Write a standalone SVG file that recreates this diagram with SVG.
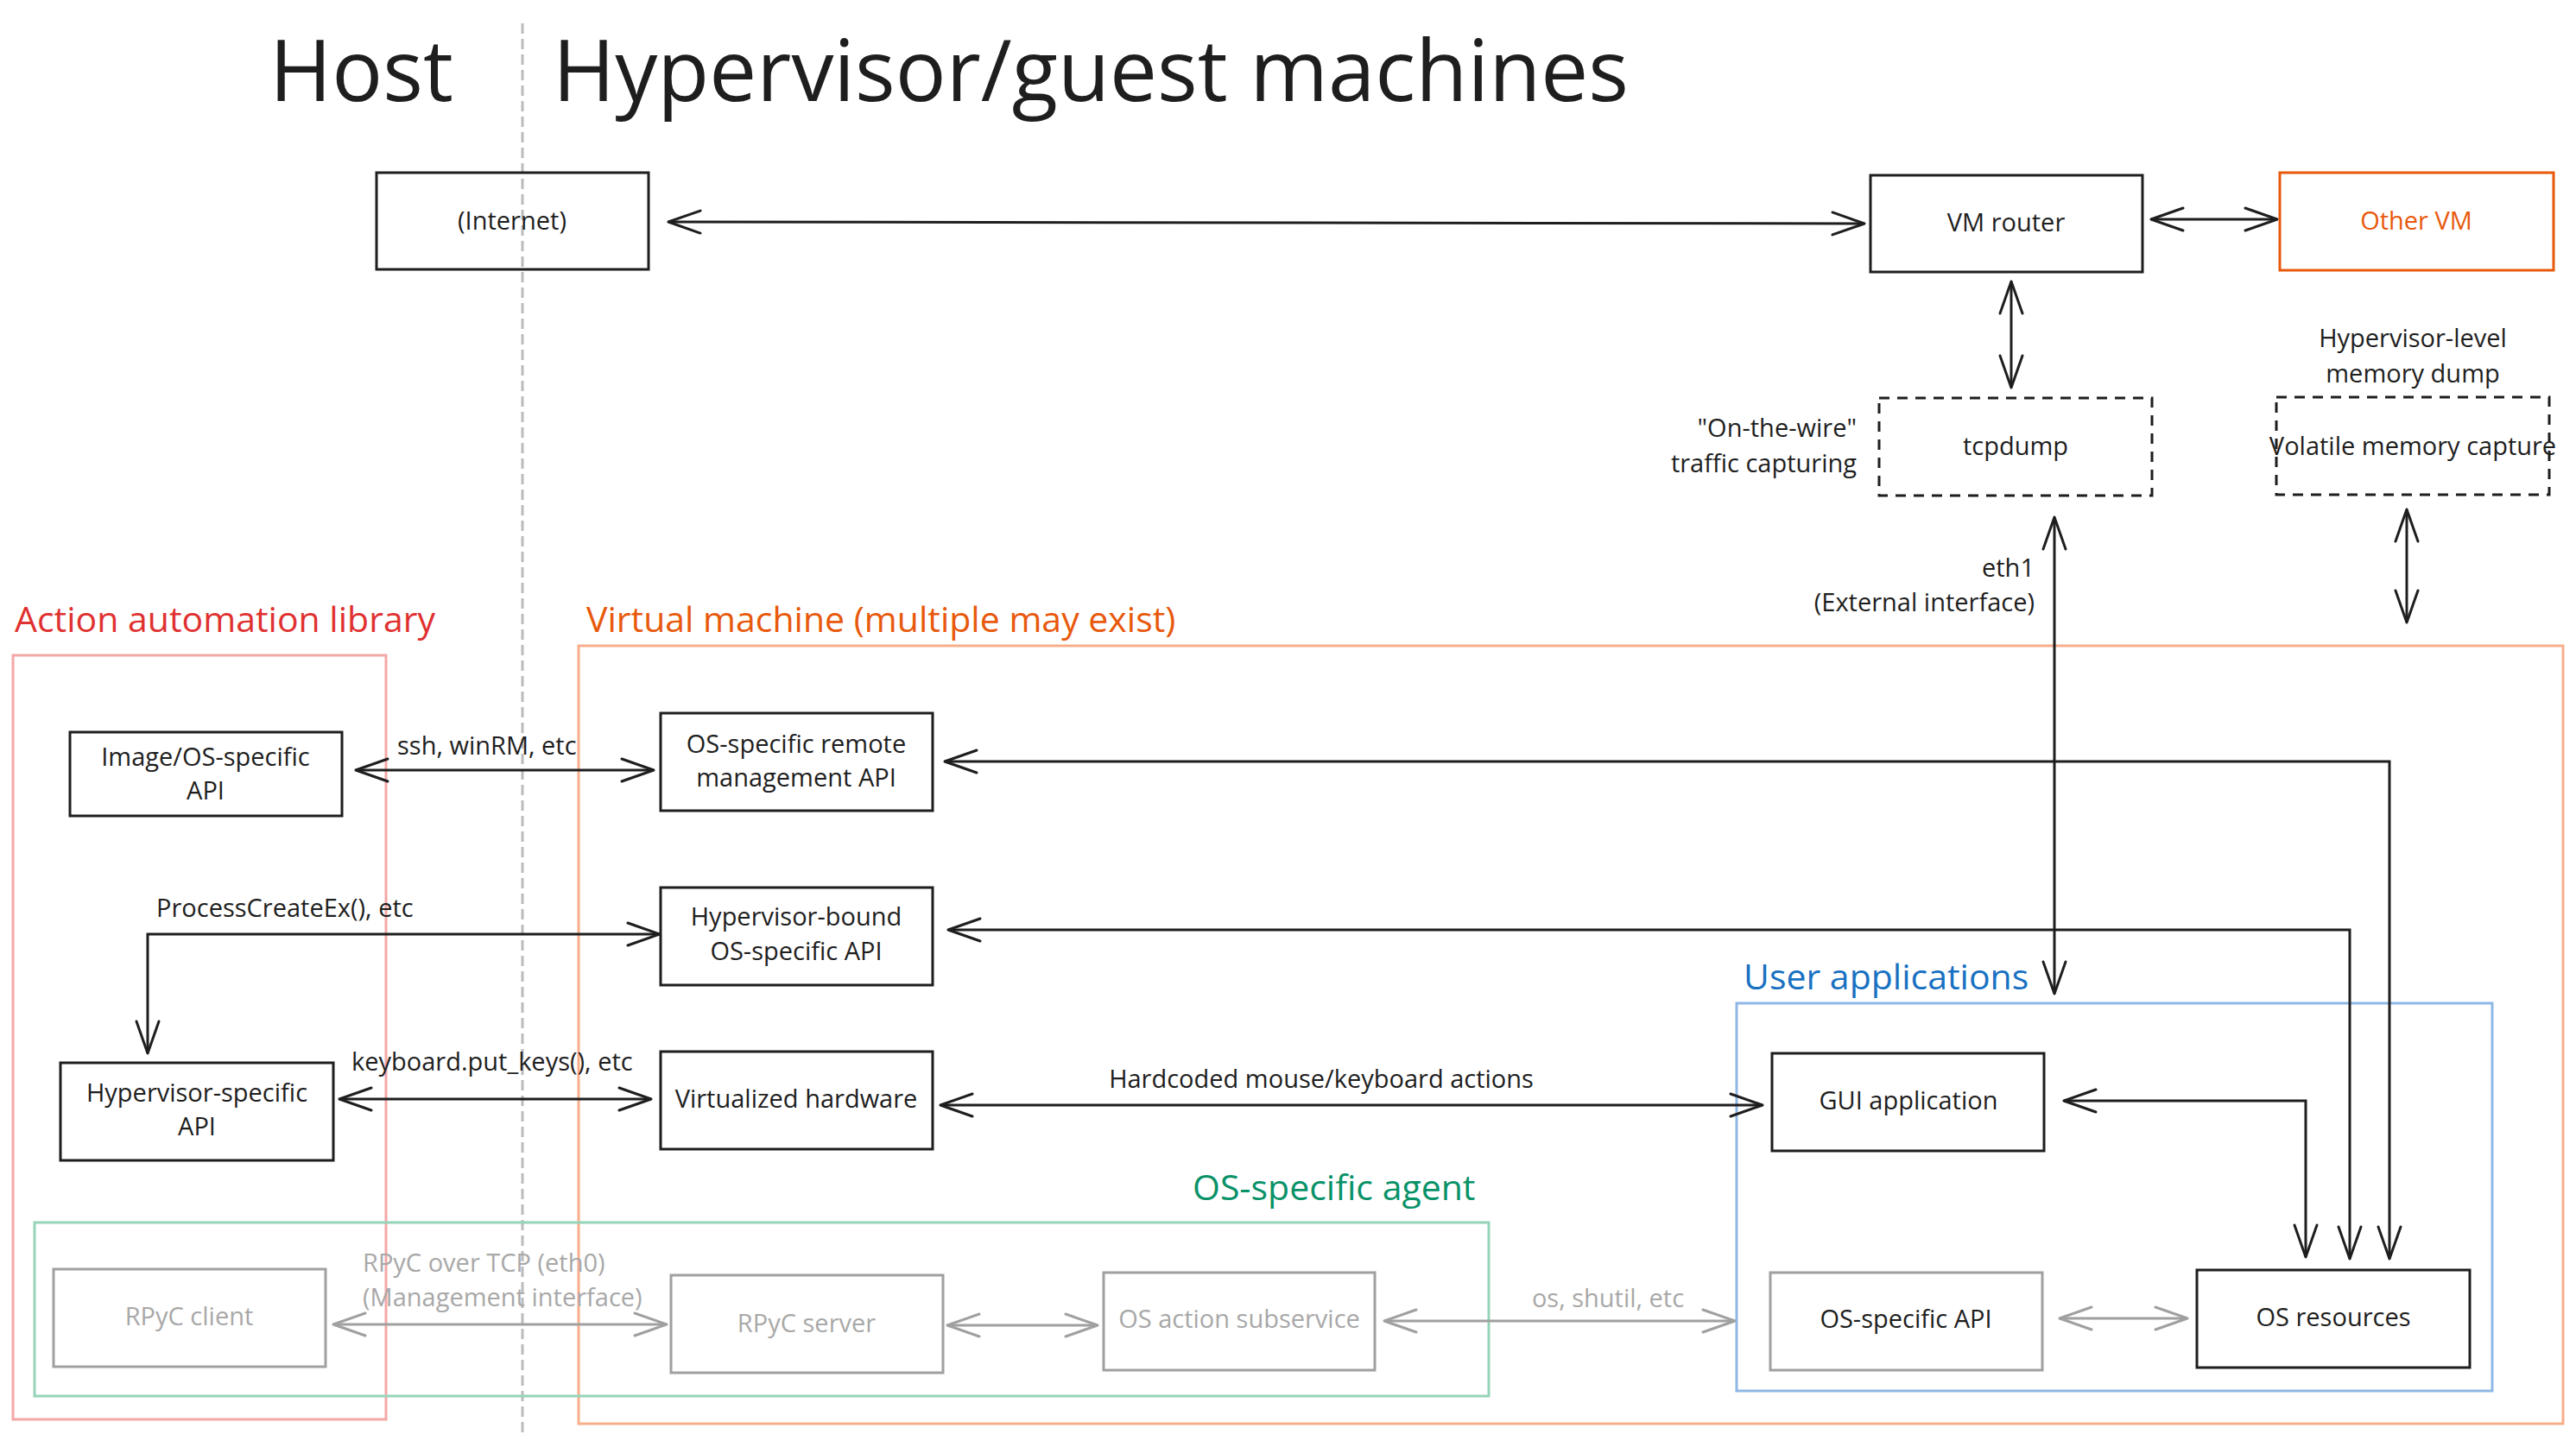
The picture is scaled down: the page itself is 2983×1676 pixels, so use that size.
<svg xmlns="http://www.w3.org/2000/svg" width="2983" height="1676" viewBox="0 0 2983 1676">
<defs>
<marker id="ah" markerUnits="userSpaceOnUse" markerWidth="50" markerHeight="40" refX="0" refY="0" viewBox="-40 -20 50 40" orient="auto-start-reverse" overflow="visible">
<path d="M-37,-13 L0,0 L-37,13" fill="none" stroke="#1e1e1e" stroke-width="3" stroke-linecap="round" stroke-linejoin="round"/>
</marker>
<marker id="ahg" markerUnits="userSpaceOnUse" markerWidth="50" markerHeight="40" refX="0" refY="0" viewBox="-40 -20 50 40" orient="auto-start-reverse" overflow="visible">
<path d="M-37,-13 L0,0 L-37,13" fill="none" stroke="#a0a0a0" stroke-width="3" stroke-linecap="round" stroke-linejoin="round"/>
</marker>
</defs>
<style>
text{font-family:"Open Sans","Noto Sans","Liberation Sans",sans-serif;fill:#1e1e1e}
.t{font-size:29px}
.c{text-anchor:middle}
.r{text-anchor:end}
.title{font-size:98px}
.sec{font-size:41px}
.box{fill:none;stroke:#1e1e1e;stroke-width:3}
.dbox{fill:none;stroke:#1e1e1e;stroke-width:3;stroke-dasharray:12 9}
.gbox{fill:none;stroke:#a0a0a0;stroke-width:3}
.gtext{fill:#a8a8a8}
.con{fill:none;stroke:#1e1e1e;stroke-width:3;marker-start:url(#ah);marker-end:url(#ah)}
.gcon{fill:none;stroke:#a0a0a0;stroke-width:3;marker-start:url(#ahg);marker-end:url(#ahg)}
</style>
<rect width="2983" height="1676" fill="#ffffff"/>

<g id="titles">
<text class="title" x="312" y="117">Host</text>
<text class="title" x="640" y="117">Hypervisor/guest machines</text>
<line x1="605" y1="27" x2="605" y2="1662" stroke="#bbbbbb" stroke-width="3" stroke-dasharray="12 6"/>
</g>

<g id="group-action-library">
<rect x="15" y="759" width="432" height="885" fill="none" stroke="#f4a7a7" stroke-width="3"/>
<text class="sec" x="17" y="732" style="fill:#e03131">Action automation library</text>
</g>
<g id="group-virtual-machine">
<rect x="670" y="748" width="2298" height="901" fill="none" stroke="#f7ae8b" stroke-width="3"/>
<text class="sec" x="679" y="732" style="fill:#e8590c">Virtual machine (multiple may exist)</text>
</g>
<g id="group-user-applications">
<rect x="2011" y="1162" width="875" height="449" fill="none" stroke="#8fb8e6" stroke-width="3"/>
<text class="sec" x="2019" y="1146" style="fill:#1971c2">User applications</text>
</g>
<g id="group-os-agent">
<rect x="40" y="1416" width="1684" height="201" fill="none" stroke="#96d4b9" stroke-width="3"/>
<text class="sec" x="1381" y="1390" style="fill:#099268">OS-specific agent</text>
</g>

<g id="connectors">
<path class="con" d="M774,257 L2159,259"/>
<path class="con" d="M2491,254 L2637,254"/>
<path class="con" d="M2329,326 L2329,449"/>
<path class="con" d="M2379,599 L2379,1151"/>
<path class="con" d="M2787,590 L2787,721"/>
<path class="con" d="M412,892 L757,892"/>
<path class="con" d="M171,1220 L171,1082 L764,1082"/>
<path class="con" d="M393,1273 L754,1273"/>
<path class="con" d="M1089,1280 L2041,1280"/>
<path class="con" d="M1094,882 L2767,882 L2767,1458"/>
<path class="con" d="M1098,1077 L2721,1077 L2721,1458"/>
<path class="con" d="M2390,1275 L2670,1275 L2670,1456"/>
<path class="gcon" d="M386,1534 L772,1534"/>
<path class="gcon" d="M1097,1535 L1271,1535"/>
<path class="gcon" d="M1603,1530 L2009,1530"/>
<path class="gcon" d="M2385,1527 L2533,1527"/>
<text class="t" x="460" y="874">ssh, winRM, etc</text>
<text class="t" x="181" y="1062">ProcessCreateEx(), etc</text>
<text class="t" x="407" y="1240">keyboard.put_keys(), etc</text>
<text class="t c" x="1530" y="1260">Hardcoded mouse/keyboard actions</text>
<text class="t gtext" x="420" y="1473">RPyC over TCP (eth0)</text>
<text class="t gtext" x="420" y="1513">(Management interface)</text>
<text class="t c gtext" x="1862" y="1514">os, shutil, etc</text>
<text class="t r" x="2150" y="506">"On-the-wire"</text>
<text class="t r" x="2150" y="547">traffic capturing</text>
<text class="t r" x="2356" y="668">eth1</text>
<text class="t r" x="2356" y="708">(External interface)</text>
<text class="t c" x="2794" y="402">Hypervisor-level</text>
<text class="t c" x="2794" y="443">memory dump</text>
</g>

<g id="internet">
<rect class="box" x="436" y="200" width="315" height="112"/>
<text class="t c" x="593" y="266">(Internet)</text>
</g>
<g id="vm-router">
<rect class="box" x="2166" y="203" width="315" height="112"/>
<text class="t c" x="2323" y="268">VM router</text>
</g>
<g id="other-vm">
<rect x="2640" y="200" width="317" height="113" fill="none" stroke="#e8590c" stroke-width="3"/>
<text class="t c" x="2798" y="266" style="fill:#e8590c">Other VM</text>
</g>
<g id="tcpdump">
<rect class="dbox" x="2176" y="461" width="316" height="113"/>
<text class="t c" x="2334" y="527">tcpdump</text>
</g>
<g id="volatile-memory-capture">
<rect class="dbox" x="2636" y="460" width="316" height="113"/>
<text class="t c" x="2794" y="527">Volatile memory capture</text>
</g>
<g id="image-os-api">
<rect class="box" x="81" y="848" width="315" height="97"/>
<text class="t c" x="238" y="887">Image/OS-specific</text>
<text class="t c" x="238" y="926">API</text>
</g>
<g id="remote-mgmt-api">
<rect class="box" x="765" y="826" width="315" height="113"/>
<text class="t c" x="922" y="872">OS-specific remote</text>
<text class="t c" x="922" y="911">management API</text>
</g>
<g id="hypervisor-bound-api">
<rect class="box" x="765" y="1028" width="315" height="113"/>
<text class="t c" x="922" y="1072">Hypervisor-bound</text>
<text class="t c" x="922" y="1112">OS-specific API</text>
</g>
<g id="hypervisor-specific-api">
<rect class="box" x="70" y="1231" width="316" height="113"/>
<text class="t c" x="228" y="1276">Hypervisor-specific</text>
<text class="t c" x="228" y="1315">API</text>
</g>
<g id="virtualized-hardware">
<rect class="box" x="765" y="1218" width="315" height="113"/>
<text class="t c" x="922" y="1283">Virtualized hardware</text>
</g>
<g id="gui-application">
<rect class="box" x="2052" y="1220" width="315" height="113"/>
<text class="t c" x="2210" y="1285">GUI application</text>
</g>
<g id="os-specific-api">
<rect class="gbox" x="2050" y="1474" width="315" height="113"/>
<text class="t c" x="2207" y="1538">OS-specific API</text>
</g>
<g id="os-resources">
<rect class="box" x="2544" y="1471" width="316" height="113"/>
<text class="t c" x="2702" y="1536">OS resources</text>
</g>
<g id="rpyc-client">
<rect class="gbox" x="62" y="1470" width="315" height="113"/>
<text class="t c gtext" x="219" y="1535">RPyC client</text>
</g>
<g id="rpyc-server">
<rect class="gbox" x="777" y="1477" width="315" height="113"/>
<text class="t c gtext" x="934" y="1543">RPyC server</text>
</g>
<g id="os-action-subservice">
<rect class="gbox" x="1278" y="1474" width="314" height="113"/>
<text class="t c gtext" x="1435" y="1538">OS action subservice</text>
</g>
</svg>
